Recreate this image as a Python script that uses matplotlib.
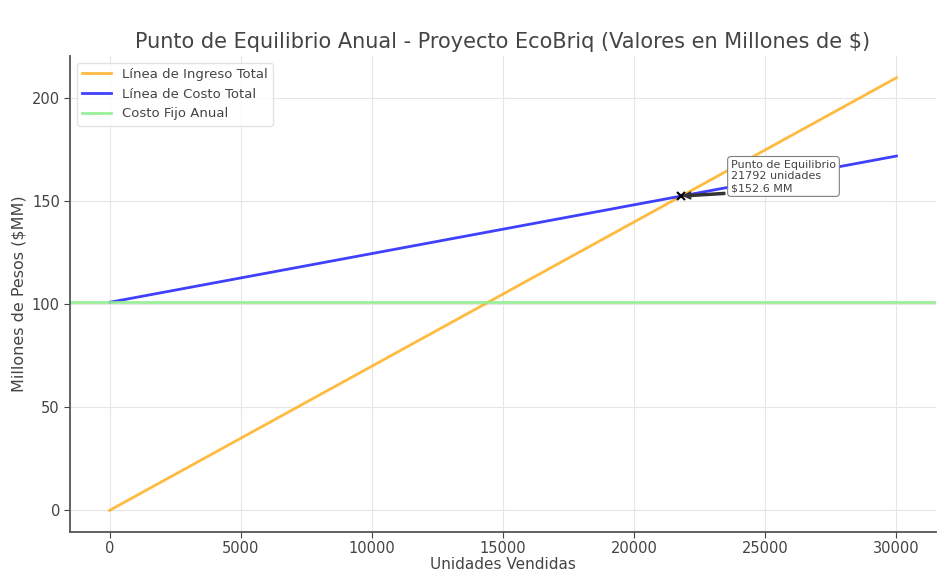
import numpy as np
import matplotlib
matplotlib.use("Agg")
import matplotlib.pyplot as plt

# Data
units = [0, 30000]
revenue = [0.0, 210.0]          # Millones de pesos
total_cost = [101.0, 172.0]
fixed_cost = 101.0
bep_units = 21792
bep_value = 152.6

text_color = "#444444"
plt.rcParams["font.family"] = ["DejaVu Sans"]

fig, ax = plt.subplots(figsize=(9.5, 5.73), dpi=100)
fig.subplots_adjust(left=0.074, right=0.985, top=0.902, bottom=0.0716)

ax.plot(units, revenue, color="orange", lw=2, alpha=0.75, label="Línea de Ingreso Total")
ax.plot(units, total_cost, color="blue", lw=2, alpha=0.75, label="Línea de Costo Total")
ax.axhline(fixed_cost, color="lightgreen", lw=2, alpha=0.9, label="Costo Fijo Anual")

ax.plot([bep_units], [bep_value], marker="x", color="black", ms=6, mew=1.5)
ax.annotate(f"Punto de Equilibrio\n{bep_units} unidades\n${bep_value:.1f} MM",
            xy=(bep_units, bep_value), xytext=(bep_units + 1900, bep_value + 9.5),
            fontsize=8, color=text_color, va="center",
            arrowprops=dict(facecolor="#333333", edgecolor="#333333", shrink=0.05,
                            width=1.5, headwidth=5, headlength=5),
            bbox=dict(boxstyle="round,pad=0.3", fc="white", ec="gray", lw=0.8))

ax.set_title("Punto de Equilibrio Anual - Proyecto EcoBriq (Valores en Millones de $)",
             fontsize=15, color=text_color, pad=6)
ax.set_xlabel("Unidades Vendidas", fontsize=11, color=text_color, labelpad=1)
ax.set_ylabel("Millones de Pesos ($MM)", fontsize=11.5, color=text_color)

ax.set_xticks([0, 5000, 10000, 15000, 20000, 25000, 30000])
ax.set_yticks([0, 50, 100, 150, 200])
ax.tick_params(colors=text_color, labelsize=10.5, length=4)
ax.tick_params(axis="x", pad=2.5)
for s in ["top", "right"]:
    ax.spines[s].set_visible(False)
for s in ["left", "bottom"]:
    ax.spines[s].set_color("#555555")
    ax.spines[s].set_linewidth(1.3)
ax.grid(True, color="#e6e6e6", lw=0.8)
ax.set_axisbelow(True)

leg = ax.legend(loc="upper left", fontsize=9.5, frameon=True, framealpha=0.8,
                edgecolor="#dddddd", handlelength=2.2)
for t in leg.get_texts():
    t.set_color(text_color)

fig.savefig("out.png", dpi=100)
